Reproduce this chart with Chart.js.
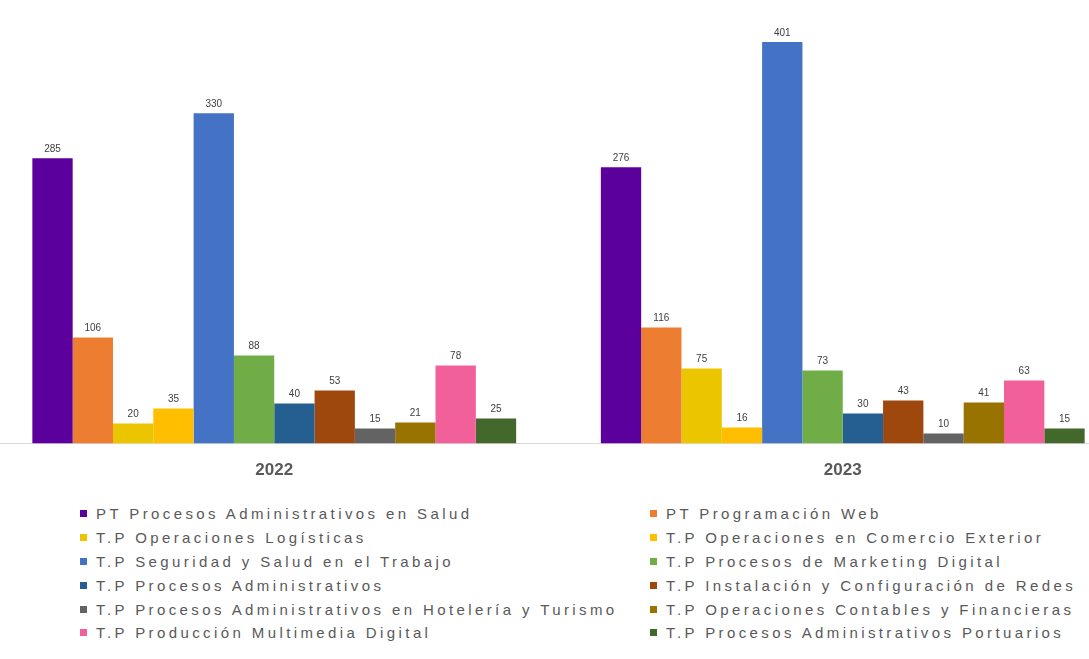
<!DOCTYPE html>
<html lang="es">
<head>
<meta charset="utf-8">
<title>Matrícula por programa 2022 - 2023</title>
<script src="https://cdn.jsdelivr.net/npm/chart.js@4.4.1/dist/chart.umd.min.js"></script>
<style>
  html, body { margin: 0; padding: 0; background: #fff; overflow: hidden; }
  body { width: 1089px; height: 659px; position: relative; font-family: "Liberation Sans", Arial, sans-serif; }
  #graf-wrap { position: absolute; left: -10px; top: 0; width: 1137px; height: 498px; }
  #graf-leyenda {
    position: absolute; left: 80px; top: 502px;
    display: grid; grid-template-columns: 570px auto; grid-auto-rows: 23.8px;
    color: #595959; font-size: 15px; letter-spacing: 3.4px;
  }
  .ley-item { display: flex; align-items: center; white-space: nowrap; }
  .ley-caja { width: 7px; height: 7px; margin-right: 9px; flex: none; }
</style>
</head>
<body>
<div id="graf-wrap"><canvas id="graf-programas"></canvas></div>
<div id="graf-leyenda"></div>

<script>
const anios = ["2022", "2023"];

const programas = [
  "PT Procesos Administrativos en Salud",
  "PT Programación Web",
  "T.P Operaciones Logísticas",
  "T.P Operaciones en Comercio Exterior",
  "T.P Seguridad y Salud en el Trabajo",
  "T.P Procesos de Marketing Digital",
  "T.P Procesos Administrativos",
  "T.P Instalación y Configuración de Redes",
  "T.P Procesos Administrativos en Hotelería y Turismo",
  "T.P Operaciones Contables y Financieras",
  "T.P Producción Multimedia Digital",
  "T.P Procesos Administrativos Portuarios"
];

const colores = [
  "#5B009C", "#ED7D31", "#EBC600", "#FFBF00", "#4472C4", "#70AD47",
  "#255E91", "#9E480E", "#636363", "#997300", "#F2609A", "#43682B"
];

// valores, en el mismo orden que programas
const valores2022 = [285, 106, 20, 35, 330, 88, 40, 53, 15, 21, 78, 25];
const valores2023 = [276, 116, 75, 16, 401, 73, 30, 43, 10, 41, 63, 15];

document.addEventListener("DOMContentLoaded", () => {
  const canvas = document.getElementById("graf-programas");

  const datasets = programas.map((nombre, i) => ({
    label: nombre,
    data: [valores2022[i], valores2023[i]],
    backgroundColor: colores[i],
    borderWidth: 0
  }));

  // etiquetas de valor encima de cada barra
  const etiquetasValor = {
    id: "etiquetasValor",
    afterDatasetsDraw(chart) {
      const ctx = chart.ctx;
      ctx.save();
      ctx.font = "10px 'Liberation Sans', Arial, sans-serif";
      ctx.fillStyle = "#404040";
      ctx.textAlign = "center";
      ctx.textBaseline = "bottom";
      chart.data.datasets.forEach((ds, i) => {
        chart.getDatasetMeta(i).data.forEach((bar, j) => {
          ctx.fillText(ds.data[j], bar.x, bar.y - 4);
        });
      });
      ctx.restore();
    }
  };

  const chart = new Chart(canvas, {
    type: "bar",
    data: { labels: anios, datasets },
    options: {
      responsive: true,
      maintainAspectRatio: false,
      animation: false,
      layout: { padding: 0 },
      plugins: {
        legend: { display: false },
        tooltip: { enabled: false }
      },
      datasets: {
        bar: { categoryPercentage: 0.851, barPercentage: 1 }
      },
      scales: {
        x: {
          grid: { display: false, drawTicks: false },
          border: { display: true, color: "#D9D9D9", width: 1 },
          ticks: {
            color: "#595959",
            padding: 17,
            font: { family: "'Liberation Sans', Arial, sans-serif", size: 17, weight: "bold" }
          }
        },
        y: {
          display: false,
          min: 0,
          max: 443
        }
      }
    },
    plugins: [etiquetasValor]
  });

  // leyenda en dos columnas, como en el original
  const leyenda = document.getElementById("graf-leyenda");
  chart.data.datasets.forEach(ds => {
    const item = document.createElement("div");
    item.className = "ley-item";
    const caja = document.createElement("span");
    caja.className = "ley-caja";
    caja.style.background = ds.backgroundColor;
    const texto = document.createElement("span");
    texto.textContent = ds.label;
    item.appendChild(caja);
    item.appendChild(texto);
    leyenda.appendChild(item);
  });
});
</script>
</body>
</html>
